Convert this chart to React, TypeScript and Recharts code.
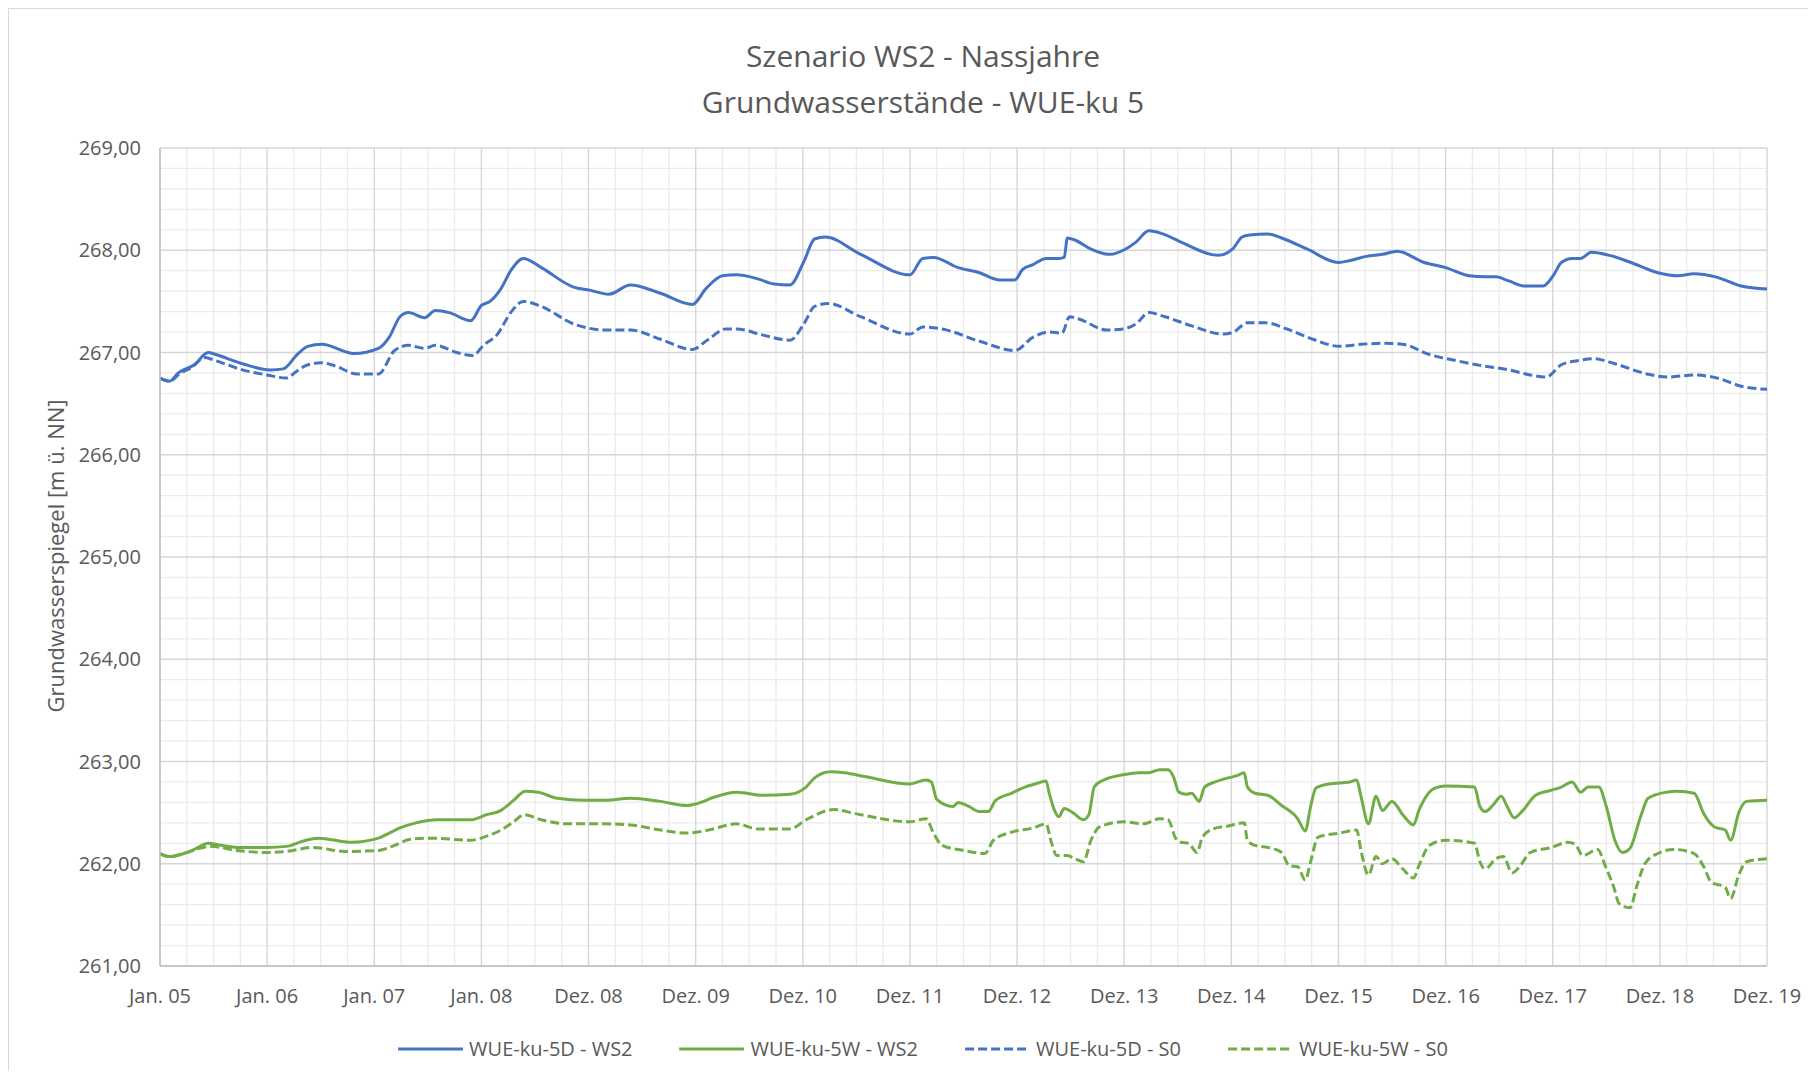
import React from 'react';
import { LineChart, Line, XAxis, YAxis, CartesianGrid } from 'recharts';

// ---- tick labels / categories ----
const xLabels = [
  'Jan. 05', 'Jan. 06', 'Jan. 07', 'Jan. 08', 'Dez. 08', 'Dez. 09', 'Dez. 10', 'Dez. 11',
  'Dez. 12', 'Dez. 13', 'Dez. 14', 'Dez. 15', 'Dez. 16', 'Dez. 17', 'Dez. 18', 'Dez. 19',
];
const yTicks = [261, 262, 263, 264, 265, 266, 267, 268, 269];

// ---- series: WUE-ku-5D - WS2 ----
const ws2_5D_t = [0, 0.09, 0.17, 0.32, 0.45, 0.52, 0.77, 1.03, 1.15, 1.28, 1.38, 1.51, 1.81, 2.04, 2.14, 2.24, 2.32, 2.47, 2.57, 2.7, 2.9, 3.0, 3.08, 3.18, 3.28, 3.39, 3.56, 3.86, 4.01, 4.19, 4.39, 4.67, 4.97, 5.1, 5.25, 5.38, 5.58, 5.73, 5.88, 6.01, 6.11, 6.21, 6.54, 7.0, 7.12, 7.22, 7.45, 7.65, 7.83, 7.98, 8.05, 8.15, 8.27, 8.39, 8.44, 8.47, 8.54, 8.69, 8.86, 9.01, 9.11, 9.23, 9.36, 9.53, 9.88, 10.01, 10.1, 10.17, 10.34, 10.47, 10.71, 11.0, 11.11, 11.26, 11.41, 11.55, 11.8, 12.0, 12.22, 12.37, 12.47, 12.59, 12.74, 12.91, 13.01, 13.08, 13.18, 13.26, 13.36, 13.53, 13.73, 13.98, 14.17, 14.32, 14.52, 14.76, 15.0];
const ws2_5D_v = [266.75, 266.72, 266.8, 266.88, 267.0, 266.98, 266.89, 266.83, 266.84, 266.98, 267.06, 267.08, 266.99, 267.04, 267.15, 267.35, 267.39, 267.34, 267.41, 267.39, 267.31, 267.46, 267.5, 267.62, 267.81, 267.92, 267.83, 267.64, 267.61, 267.57, 267.66, 267.58, 267.47, 267.63, 267.75, 267.76, 267.72, 267.67, 267.66, 267.89, 268.11, 268.13, 267.96, 267.76, 267.92, 267.93, 267.83, 267.78, 267.71, 267.71, 267.81, 267.86, 267.92, 267.92, 267.93, 268.12, 268.1, 268.01, 267.96, 268.01, 268.08, 268.19, 268.16, 268.08, 267.95, 268.01, 268.13, 268.15, 268.16, 268.12, 268.01, 267.88, 267.9, 267.94, 267.96, 267.99, 267.88, 267.83, 267.75, 267.74, 267.74, 267.7, 267.65, 267.65, 267.76, 267.88, 267.92, 267.92, 267.98, 267.95, 267.88, 267.78, 267.75, 267.77, 267.74, 267.65, 267.62];

// ---- series: WUE-ku-5W - WS2 ----
const ws2_5W_t = [0, 0.09, 0.22, 0.32, 0.45, 0.57, 0.72, 1.0, 1.18, 1.33, 1.48, 1.79, 2.04, 2.14, 2.24, 2.39, 2.59, 2.9, 3.05, 3.18, 3.3, 3.41, 3.53, 3.71, 3.96, 4.16, 4.39, 4.67, 4.92, 5.02, 5.17, 5.38, 5.63, 5.88, 6.03, 6.11, 6.26, 6.39, 6.59, 7.0, 7.15, 7.2, 7.25, 7.4, 7.45, 7.55, 7.65, 7.73, 7.8, 7.95, 8.05, 8.2, 8.27, 8.3, 8.35, 8.39, 8.44, 8.52, 8.62, 8.67, 8.72, 8.79, 8.99, 9.14, 9.23, 9.33, 9.41, 9.46, 9.51, 9.58, 9.63, 9.7, 9.75, 9.85, 10.07, 10.12, 10.15, 10.22, 10.34, 10.47, 10.62, 10.69, 10.74, 10.79, 10.91, 11.11, 11.17, 11.21, 11.28, 11.35, 11.41, 11.5, 11.6, 11.7, 11.75, 11.9, 12.0, 12.27, 12.32, 12.37, 12.44, 12.52, 12.57, 12.64, 12.72, 12.84, 12.99, 13.08, 13.18, 13.26, 13.33, 13.43, 13.5, 13.58, 13.65, 13.72, 13.82, 13.89, 14.06, 14.16, 14.32, 14.41, 14.51, 14.61, 14.66, 14.74, 14.81, 15.0];
const ws2_5W_v = [262.1, 262.07, 262.1, 262.14, 262.2, 262.18, 262.16, 262.16, 262.17, 262.22, 262.25, 262.21, 262.25, 262.3, 262.35, 262.4, 262.43, 262.43, 262.48, 262.52, 262.62, 262.71, 262.7, 262.64, 262.62, 262.62, 262.64, 262.61, 262.57, 262.59, 262.65, 262.7, 262.67, 262.68, 262.75, 262.84, 262.9, 262.89, 262.85, 262.78, 262.82, 262.8, 262.63, 262.56, 262.6, 262.56, 262.51, 262.51, 262.62, 262.69, 262.74, 262.79, 262.81, 262.69, 262.52, 262.46, 262.54, 262.5, 262.43, 262.48, 262.75, 262.81, 262.87, 262.89, 262.89, 262.92, 262.92, 262.85, 262.7, 262.68, 262.69, 262.61, 262.75, 262.8, 262.87, 262.89, 262.75, 262.69, 262.67, 262.57, 262.44, 262.32, 262.56, 262.74, 262.78, 262.8, 262.82, 262.66, 262.39, 262.66, 262.52, 262.61, 262.48, 262.38, 262.52, 262.74, 262.76, 262.75, 262.56, 262.51, 262.57, 262.66, 262.57, 262.45, 262.52, 262.67, 262.72, 262.75, 262.8, 262.7, 262.75, 262.75, 262.56, 262.23, 262.11, 262.15, 262.46, 262.64, 262.7, 262.71, 262.69, 262.49, 262.36, 262.33, 262.23, 262.51, 262.61, 262.62];

// ---- series: WUE-ku-5D - S0 ----
const s0_5D_t = [0, 0.09, 0.19, 0.29, 0.42, 0.52, 0.77, 1.0, 1.18, 1.28, 1.38, 1.51, 1.63, 1.84, 2.04, 2.19, 2.32, 2.47, 2.57, 2.77, 2.92, 3.02, 3.15, 3.28, 3.39, 3.56, 3.86, 4.16, 4.39, 4.67, 4.97, 5.12, 5.28, 5.38, 5.63, 5.88, 6.01, 6.11, 6.24, 6.54, 7.0, 7.12, 7.3, 7.65, 7.98, 8.15, 8.3, 8.42, 8.49, 8.57, 8.84, 8.99, 9.11, 9.23, 9.38, 9.63, 9.93, 10.02, 10.15, 10.32, 10.52, 10.76, 11.01, 11.21, 11.41, 11.6, 11.85, 12.1, 12.34, 12.59, 12.79, 12.94, 13.08, 13.23, 13.38, 13.58, 13.88, 14.07, 14.32, 14.57, 14.76, 15.0];
const s0_5D_v = [266.75, 266.72, 266.8, 266.85, 266.95, 266.92, 266.83, 266.78, 266.75, 266.82, 266.88, 266.9, 266.87, 266.79, 266.79, 267.02, 267.07, 267.04, 267.07, 267.0, 266.97, 267.07, 267.18, 267.4, 267.5, 267.45, 267.28, 267.22, 267.22, 267.13, 267.03, 267.13, 267.23, 267.23, 267.17, 267.12, 267.28, 267.45, 267.48, 267.35, 267.18, 267.25, 267.23, 267.11, 267.02, 267.15, 267.2, 267.19, 267.35, 267.33, 267.22, 267.23, 267.28, 267.39, 267.35, 267.26, 267.18, 267.2, 267.29, 267.29, 267.23, 267.13, 267.06, 267.08, 267.09, 267.08, 266.98, 266.92, 266.87, 266.83, 266.78, 266.76, 266.88, 266.92, 266.94, 266.89, 266.79, 266.76, 266.78, 266.74, 266.67, 266.64];

// ---- series: WUE-ku-5W - S0 ----
const s0_5W_t = [0, 0.09, 0.22, 0.37, 0.47, 0.72, 1.0, 1.18, 1.43, 1.73, 2.04, 2.19, 2.34, 2.54, 2.9, 3.05, 3.2, 3.3, 3.4, 3.56, 3.81, 4.16, 4.39, 4.67, 4.92, 5.12, 5.38, 5.58, 5.88, 6.03, 6.29, 6.49, 7.0, 7.15, 7.22, 7.3, 7.5, 7.7, 7.78, 7.95, 8.15, 8.27, 8.32, 8.37, 8.47, 8.54, 8.62, 8.69, 8.77, 8.99, 9.18, 9.33, 9.41, 9.48, 9.53, 9.6, 9.68, 9.73, 9.83, 9.97, 10.12, 10.15, 10.22, 10.34, 10.47, 10.54, 10.62, 10.69, 10.74, 10.81, 11.01, 11.17, 11.21, 11.28, 11.35, 11.41, 11.5, 11.6, 11.7, 11.75, 11.85, 12.0, 12.27, 12.32, 12.37, 12.47, 12.54, 12.62, 12.69, 12.79, 12.99, 13.14, 13.21, 13.28, 13.42, 13.49, 13.57, 13.62, 13.72, 13.79, 13.86, 13.98, 14.13, 14.32, 14.41, 14.48, 14.61, 14.66, 14.74, 14.81, 15.0];
const s0_5W_v = [262.1, 262.07, 262.1, 262.15, 262.17, 262.13, 262.11, 262.12, 262.16, 262.12, 262.13, 262.18, 262.24, 262.25, 262.23, 262.27, 262.34, 262.41, 262.48, 262.43, 262.39, 262.39, 262.38, 262.33, 262.3, 262.33, 262.39, 262.34, 262.34, 262.43, 262.53, 262.49, 262.41, 262.44, 262.3, 262.18, 262.13, 262.1, 262.23, 262.31, 262.35, 262.39, 262.21, 262.08, 262.08, 262.05, 262.02, 262.23, 262.36, 262.41, 262.39, 262.44, 262.43, 262.25, 262.21, 262.2, 262.11, 262.26, 262.34, 262.37, 262.4, 262.23, 262.18, 262.16, 262.11, 261.98, 261.97, 261.84, 262.02, 262.26, 262.3, 262.33, 262.13, 261.89, 262.07, 262.0, 262.05, 261.95, 261.86, 261.98, 262.18, 262.23, 262.2, 262.02, 261.95, 262.05, 262.07, 261.91, 261.97, 262.11, 262.16, 262.21, 262.19, 262.08, 262.14, 261.98, 261.77, 261.61, 261.57, 261.8, 262.0, 262.1, 262.14, 262.1, 261.97, 261.82, 261.77, 261.66, 261.9, 262.02, 262.05];

const seriesNames = ['WUE-ku-5D - WS2', 'WUE-ku-5W - WS2', 'WUE-ku-5D - S0', 'WUE-ku-5W - S0'];

const BLUE = '#4472C4';
const GREEN = '#70AD47';
const TEXT = '#595959';
const FONT = "'Open Sans', 'Noto Sans', sans-serif";

const toPoints = (t: number[], v: number[]) => t.map((x, i) => ({ t: x, v: v[i] }));

const series = [
  { name: seriesNames[0], data: toPoints(ws2_5D_t, ws2_5D_v), color: BLUE, dash: undefined as string | undefined },
  { name: seriesNames[1], data: toPoints(ws2_5W_t, ws2_5W_v), color: GREEN, dash: undefined as string | undefined },
  { name: seriesNames[2], data: toPoints(s0_5D_t, s0_5D_v), color: BLUE, dash: '9 4' },
  { name: seriesNames[3], data: toPoints(s0_5W_t, s0_5W_v), color: GREEN, dash: '9 4' },
];

const xTicks = xLabels.map((_, i) => i);
// minor gridline positions (quarter intervals on x, 0.2 m on y)
const minorXTicks: number[] = [];
for (let i = 0; i <= 60; i++) if (i % 4 !== 0) minorXTicks.push(i / 4);
const minorYTicks: number[] = [];
for (let i = 0; i <= 40; i++) if (i % 5 !== 0) minorYTicks.push(Math.round((261 + i * 0.2) * 100) / 100);

const fmtY = (v: number) => v.toFixed(2).replace('.', ',');

const tickStyle = { fill: TEXT, fontSize: 20, fontFamily: FONT };

export default function App() {
  return (
    <div
      style={{
        position: 'relative',
        width: 1800,
        height: 1063,
        boxSizing: 'border-box',
        borderLeft: '1px solid #d9d9d9',
        borderTop: '1px solid #d9d9d9',
        fontFamily: FONT,
        background: '#ffffff',
        overflow: 'hidden',
      }}
    >
      <svg width={1799} height={1062} style={{ position: 'absolute', left: 0, top: 0 }}>
        <text x={914} y={58} textAnchor="middle" fill={TEXT} fontSize={30} fontFamily={FONT}>
          Szenario WS2 - Nassjahre
        </text>
        <text x={914} y={104} textAnchor="middle" fill={TEXT} fontSize={30} fontFamily={FONT}>
          Grundwasserstände - WUE-ku 5
        </text>
        <text
          x={55}
          y={547}
          textAnchor="middle"
          fill={TEXT}
          fontSize={22}
          fontFamily={FONT}
          transform="rotate(-90 55 547)"
        >
          Grundwasserspiegel [m ü. NN]
        </text>
      </svg>
      <div style={{ position: 'absolute', left: 0, top: 0 }}>
        <LineChart
          width={1799}
          height={1050}
          margin={{ top: 139, right: 41, bottom: 53, left: 61 }}
          style={{ overflow: 'visible' }}
        >
          <CartesianGrid
            verticalValues={minorXTicks}
            horizontalValues={minorYTicks}
            stroke="#ebebeb"
            strokeWidth={1.3}
          />
          <CartesianGrid
            verticalValues={xTicks}
            horizontalValues={yTicks}
            stroke="#d6d6d6"
            strokeWidth={1.4}
          />
          <XAxis
            type="number"
            dataKey="t"
            domain={[0, 15]}
            ticks={xTicks}
            interval={0}
            tickFormatter={(i: number) => xLabels[i]}
            tick={tickStyle}
            tickLine={false}
            tickSize={0}
            tickMargin={23}
            axisLine={{ stroke: '#bfbfbf', strokeWidth: 1.4 }}
            height={40}
          />
          <YAxis
            type="number"
            domain={[261, 269]}
            ticks={yTicks}
            interval={0}
            tickFormatter={fmtY}
            tick={tickStyle}
            tickLine={false}
            tickSize={0}
            tickMargin={19}
            axisLine={{ stroke: '#bfbfbf', strokeWidth: 1.4 }}
            width={90}
          />
          {series.map((s) => (
            <Line
              key={s.name}
              data={s.data}
              dataKey="v"
              name={s.name}
              type="monotone"
              stroke={s.color}
              strokeWidth={3}
              strokeDasharray={s.dash}
              dot={false}
              activeDot={false}
              isAnimationActive={false}
            />
          ))}
        </LineChart>
      </div>
      <div
        style={{
          position: 'absolute',
          left: 914,
          top: 1026,
          transform: 'translateX(-50%)',
          display: 'flex',
          alignItems: 'center',
          gap: 47,
          whiteSpace: 'nowrap',
          fontSize: 20,
          color: TEXT,
          fontFamily: FONT,
        }}
      >
        {series.map((s) => (
          <div key={s.name} style={{ display: 'flex', alignItems: 'center', gap: 6 }}>
            <svg width={65} height={6}>
              <line x1={0} y1={3} x2={65} y2={3} stroke={s.color} strokeWidth={3} strokeDasharray={s.dash} />
            </svg>
            <span>{s.name}</span>
          </div>
        ))}
      </div>
    </div>
  );
}
